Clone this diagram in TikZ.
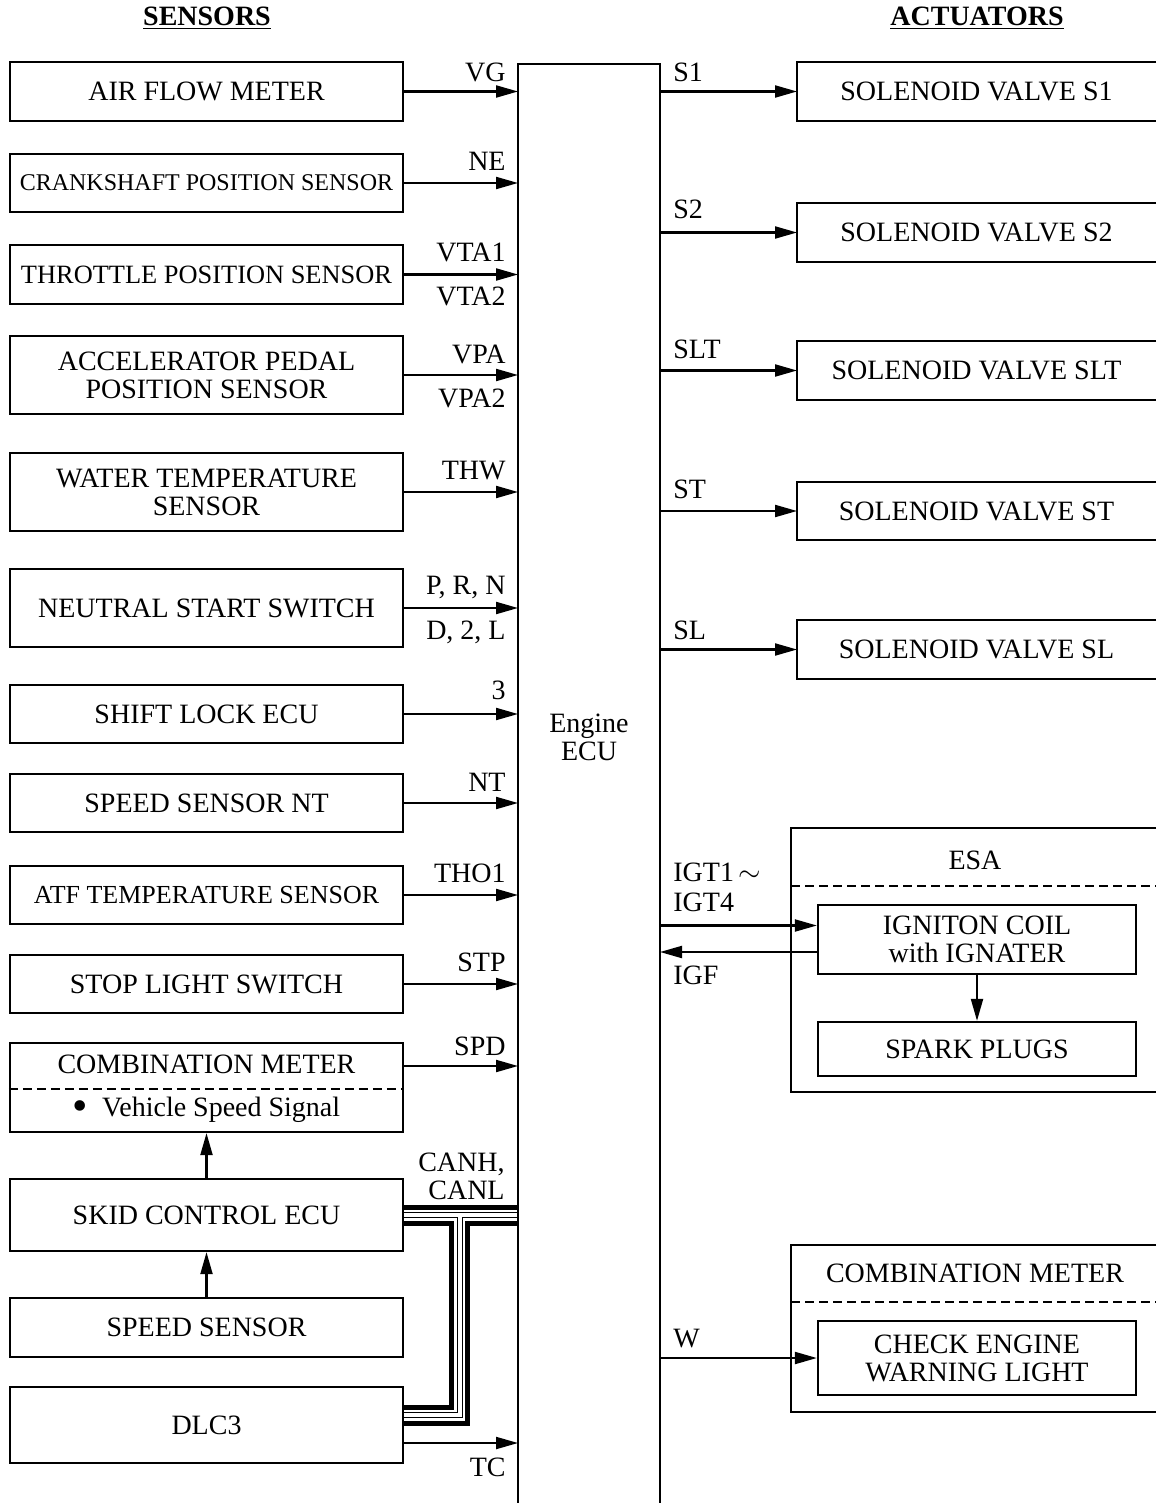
\documentclass[tikz,border=0pt]{standalone}
\usepackage{fontspec}
\setmainfont{Liberation Serif}
\usetikzlibrary{arrows.meta,calc}
\newcommand\fsz{\fontsize{14}{14}\selectfont}
\begin{document}
\begin{tikzpicture}[x=0.5pt,y=-0.5pt,
  sbox/.style={draw, line width=1.15pt, minimum width=196.5pt, inner sep=0pt, align=center, font=\fsz},
  rbox/.style={line width=1.15pt, minimum width=179.5pt, inner sep=0pt, outer sep=0pt, align=center, font=\fsz},
  obox/.style={line width=1.15pt, minimum width=182.5pt, inner sep=0pt, outer sep=0pt, align=center, font=\fsz},
  ibox/.style={draw, line width=1.15pt, minimum width=159pt, inner sep=0pt, align=center, font=\fsz},
  arr/.style={line width=1.05pt, -{Triangle[length=11pt,width=6pt]}},
  lbl/.style={inner sep=0pt, font=\fsz},
  dsh/.style={line width=0.9pt, dash pattern=on 4.5pt off 2.5pt},
]
\useasboundingbox (0,0) rectangle (1156,1503);
\clip (0,0) rectangle (1156,1503);

% headers
\node[lbl, font=\fsz\bfseries] (hsens) at (207,18) {\underline{SENSORS}};
\node[lbl, font=\fsz\bfseries] (hact) at (977,18) {\underline{ACTUATORS}};

% Engine ECU (open at the bottom)
\node[minimum width=71pt, minimum height=719.5pt, outer sep=0pt, inner sep=0pt] (ecu) at (589,783.5) {};
\node[lbl, align=center] (ecut) at (589,737) {Engine\\ECU};

% sensors
\node[sbox, minimum height=29.5pt] (afm) at (206.5,91.5) {AIR FLOW METER};
\node[sbox, minimum height=29pt, font=\fontsize{12}{12}\selectfont] (crank) at (206.5,183) {CRANKSHAFT POSITION SENSOR};
\node[sbox, minimum height=29.5pt, font=\fontsize{13.2}{13.2}\selectfont] (tps) at (206.5,274.5) {THROTTLE POSITION SENSOR};
\node[sbox, minimum height=39pt] (apps) at (206.5,375) {ACCELERATOR PEDAL\\POSITION SENSOR};
\node[sbox, minimum height=39pt] (wts) at (206.5,492) {WATER TEMPERATURE\\SENSOR};
\node[sbox, minimum height=39pt] (nss) at (206.5,608) {NEUTRAL START SWITCH};
\node[sbox, minimum height=29pt] (slecu) at (206.5,714) {SHIFT LOCK ECU};
\node[sbox, minimum height=29pt] (spnt) at (206.5,803) {SPEED SENSOR NT};
\node[sbox, minimum height=29pt, font=\fontsize{13}{13}\selectfont] (atf) at (206.5,895) {ATF TEMPERATURE SENSOR};
\node[sbox, minimum height=29pt] (stop) at (206.5,984) {STOP LIGHT SWITCH};
\node[sbox, minimum height=44.5pt] (cmb) at (206.5,1087.5) {};
\node[lbl] (cmbt) at (206.5,1064) {COMBINATION METER};
\node[lbl] (cmbv) at (206.5,1110) {\raisebox{-1.8pt}{\fontsize{22}{22}\selectfont\textbullet}\enspace Vehicle Speed Signal};
\draw[dsh] (cmb.west |- 0,1089) -- (cmb.east |- 0,1089);
\node[sbox, minimum height=36pt] (skid) at (206.5,1215) {SKID CONTROL ECU};
\node[sbox, minimum height=29.5pt] (spd) at (206.5,1327.5) {SPEED SENSOR};
\node[sbox, minimum height=38pt] (dlc) at (206.5,1425) {DLC3};

% CAN bus bundle
\coordinate (canj) at (459.5,1215);
\coordinate (canc) at (459.5,1415);
\foreach \w/\c in {10.5/black,5.5/white,3/black,2/white}
  \draw[line width=\w pt, \c, line join=miter] (skid.east) -- (skid.east -| ecu.west) (canj) -- (canc) -- (canc -| dlc.east);

% ECU outline
\draw[line width=1.2pt] (ecu.south west) -- (ecu.north west) -- (ecu.north east) -- (ecu.south east);

% sensor arrows
\foreach \n in {afm,crank,tps,apps,wts,nss,slecu,spnt,atf,stop}
  \draw[arr] (\n.east) -- (\n.east -| ecu.west);
\coordinate (cmbo) at ([yshift=10.75pt]cmb.east);
\draw[arr] (cmbo) -- (cmbo -| ecu.west);
\coordinate (tco) at ([yshift=-9pt]dlc.east);
\draw[arr] (tco) -- (tco -| ecu.west);
\draw[arr] (skid.north) -- (cmb.south);
\draw[arr] (spd.north) -- (skid.south);

% sensor labels
\node[lbl, anchor=base east] (lvg) at (506,82) {VG};
\node[lbl, anchor=base east] (lne) at (506,171) {NE};
\node[lbl, anchor=base east] (lvta1) at (506,262) {VTA1};
\node[lbl, anchor=base east] (lvta2) at (506,305) {VTA2};
\node[lbl, anchor=base east] (lvpa) at (506,363) {VPA};
\node[lbl, anchor=base east] (lvpa2) at (506,407) {VPA2};
\node[lbl, anchor=base east] (lthw) at (506,479) {THW};
\node[lbl, anchor=base east] (lprn) at (506,594) {P, R, N};
\node[lbl, anchor=base east] (ld2l) at (506,639) {D, 2, L};
\node[lbl, anchor=base east] (l3) at (506,699) {3};
\node[lbl, anchor=base east] (lnt) at (506,791) {NT};
\node[lbl, anchor=base east] (ltho) at (506,882) {THO1};
\node[lbl, anchor=base east] (lstp) at (506,971) {STP};
\node[lbl, anchor=base east] (lspd) at (506,1055) {SPD};
\node[lbl, anchor=base east] (lcanh) at (505,1171) {CANH,};
\node[lbl, anchor=base east] (lcanl) at (505,1199) {CANL};
\node[lbl, anchor=base east] (ltc) at (506,1476) {TC};

% actuators
\node[rbox, minimum height=29.5pt] (s1) at (976.5,91.5) {SOLENOID VALVE S1};
\node[rbox, minimum height=29.5pt] (s2) at (976.5,232.5) {SOLENOID VALVE S2};
\node[rbox, minimum height=29.5pt] (slt) at (976.5,370.5) {SOLENOID VALVE SLT};
\node[rbox, minimum height=29pt] (st) at (976.5,511) {SOLENOID VALVE ST};
\node[rbox, minimum height=29.5pt] (sl) at (976.5,649.5) {SOLENOID VALVE SL};
\node[obox, minimum height=132pt] (esa) at (973.5,960) {};
\node[lbl] (esat) at (975,860) {ESA};
\draw[dsh] (esa.west |- 0,886) -- (esa.east |- 0,886);
\node[ibox, minimum height=34.5pt] (coil) at (977,939.5) {IGNITON COIL\\with IGNATER};
\node[ibox, minimum height=27pt] (spark) at (977,1049) {SPARK PLUGS};
\node[obox, minimum height=83.5pt] (cmr) at (973.5,1328.5) {};
\node[lbl] (cmrt) at (975,1273) {COMBINATION METER};
\draw[dsh] (cmr.west |- 0,1302) -- (cmr.east |- 0,1302);
\node[ibox, minimum height=37pt] (cel) at (977,1358) {CHECK ENGINE\\WARNING LIGHT};
\foreach \n in {s1,s2,slt,st,sl,esa,cmr}
  \draw[line width=1.15pt] (\n.north east) -- (\n.north west) -- (\n.south west) -- (\n.south east);

% actuator arrows
\foreach \n in {s1,s2,slt,st,sl}
  \draw[arr] (ecu.east |- \n.west) -- (\n.west);
\coordinate (igto) at ([yshift=7pt]coil.west);
\draw[arr] (ecu.east |- igto) -- (igto);
\coordinate (igfo) at ([yshift=-6.25pt]coil.west);
\draw[arr] (igfo) -- (ecu.east |- igfo);
\draw[arr] (coil.south) -- (spark.north);
\draw[arr] (ecu.east |- cel.west) -- (cel.west);

% actuator labels
\node[lbl, anchor=base west] (ls1) at (673,82) {S1};
\node[lbl, anchor=base west] (ls2) at (673,219) {S2};
\node[lbl, anchor=base west] (lslt) at (673,358) {SLT};
\node[lbl, anchor=base west] (lst) at (673,498) {ST};
\node[lbl, anchor=base west] (lsl) at (673,639) {SL};
\node[lbl, anchor=base west] (ligt1) at (673,881) {IGT1\,$\sim$};
\node[lbl, anchor=base west] (ligt4) at (673,911) {IGT4};
\node[lbl, anchor=base west] (ligf) at (673,984) {IGF};
\node[lbl, anchor=base west] (lw) at (673,1347) {W};
\end{tikzpicture}
\end{document}
